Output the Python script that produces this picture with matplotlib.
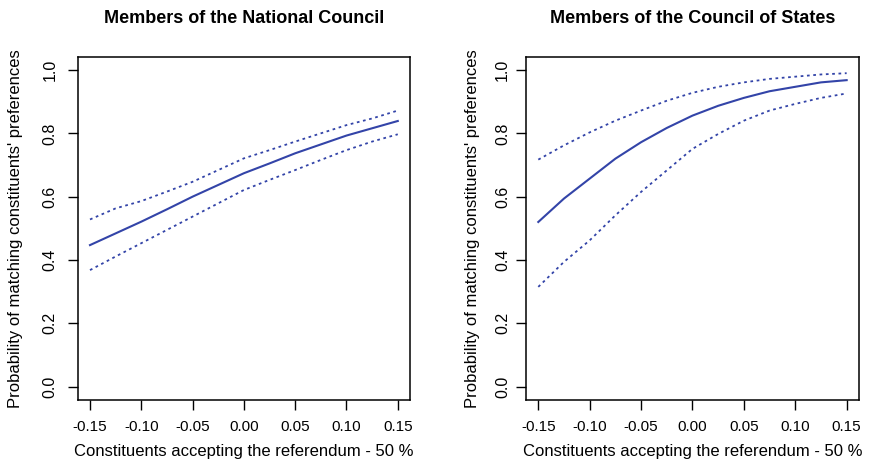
import matplotlib
matplotlib.use("Agg")
import matplotlib.pyplot as plt
import numpy as np

plt.rcParams['font.family'] = ['Liberation Sans', 'DejaVu Sans']

x = [-0.15, -0.125, -0.10, -0.075, -0.05, -0.025, 0.0, 0.025, 0.05, 0.075, 0.10, 0.125, 0.15]

nc_mean  = [0.447, 0.484, 0.521, 0.560, 0.600, 0.637, 0.674, 0.705, 0.737, 0.765, 0.793, 0.816, 0.839]
nc_upper = [0.528, 0.563, 0.586, 0.616, 0.647, 0.684, 0.721, 0.747, 0.774, 0.800, 0.826, 0.847, 0.872]
nc_lower = [0.368, 0.411, 0.453, 0.495, 0.537, 0.579, 0.621, 0.653, 0.684, 0.716, 0.747, 0.774, 0.797]

cs_mean  = [0.520, 0.594, 0.657, 0.720, 0.772, 0.817, 0.856, 0.887, 0.912, 0.933, 0.947, 0.961, 0.968]
cs_upper = [0.717, 0.762, 0.803, 0.840, 0.872, 0.903, 0.928, 0.947, 0.961, 0.972, 0.979, 0.986, 0.990]
cs_lower = [0.315, 0.394, 0.462, 0.541, 0.615, 0.683, 0.751, 0.798, 0.840, 0.872, 0.893, 0.912, 0.926]

titles = ["Members of the National Council", "Members of the Council of States"]
xlabel = "Constituents accepting the referendum - 50 %"
ylabel = "Probability of matching constituents' preferences"
xticks = [-0.15, -0.10, -0.05, 0.00, 0.05, 0.10, 0.15]
yticks = [0.0, 0.2, 0.4, 0.6, 0.8, 1.0]

color = "#3344a8"

fig = plt.figure(figsize=(8.96, 4.65), dpi=100)
positions = [[0.0867, 0.140, 0.371, 0.738], [0.587, 0.140, 0.3717, 0.738]]
data = [(nc_mean, nc_upper, nc_lower), (cs_mean, cs_upper, cs_lower)]
ypads = [7, 4]
ylabelpads = [14, 11]

for i, (pos, title, (m, u, l)) in enumerate(zip(positions, titles, data)):
    ax = fig.add_axes(pos)
    ax.plot(x, m, color=color, lw=1.5)
    ax.plot(x, u, color=color, lw=1.3, linestyle=(0, (1.5, 2)))
    ax.plot(x, l, color=color, lw=1.3, linestyle=(0, (1.5, 2)))
    ax.set_xlim(-0.162, 0.162)
    ax.set_ylim(-0.042, 1.042)
    ax.set_xticks(xticks)
    ax.set_xticklabels([f"{v:.2f}" for v in xticks], fontsize=11)
    ax.set_yticks(yticks)
    ax.set_yticklabels([f"{v:.1f}" for v in yticks], fontsize=11.5, rotation=90, va='center')
    ax.tick_params(direction='out', length=7.5, width=1.0)
    ax.tick_params(axis='x', pad=7)
    ax.tick_params(axis='y', pad=ypads[i])
    for s in ax.spines.values():
        s.set_linewidth(1.1)
    ax.set_title(title, fontsize=13, fontweight='bold', pad=24)
    ax.set_xlabel(xlabel, fontsize=12, labelpad=7)
    ax.set_ylabel(ylabel, fontsize=12, labelpad=ylabelpads[i])

fig.savefig("out.png", dpi=100)
